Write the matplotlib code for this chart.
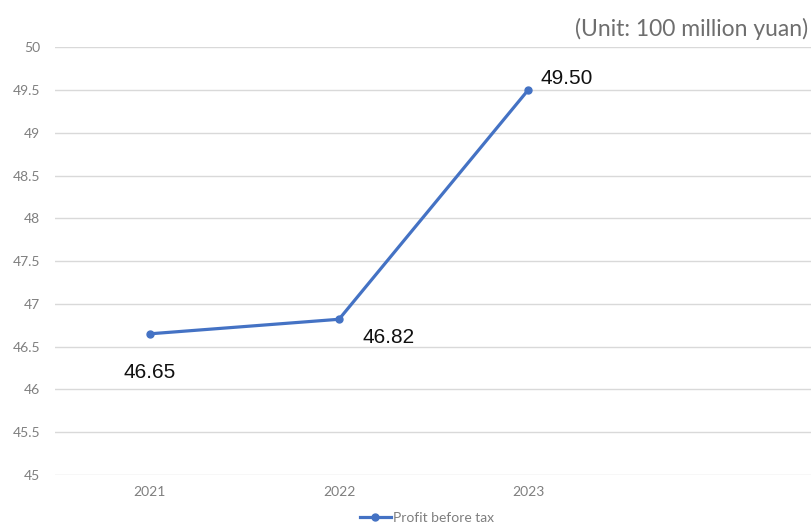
import matplotlib.pyplot as plt
from matplotlib.lines import Line2D

years = ["2021", "2022", "2023"]
profit = [46.65, 46.82, 49.50]
labels = ["46.65", "46.82", "49.50"]
yticks = [45, 45.5, 46, 46.5, 47, 47.5, 48, 48.5, 49, 49.5, 50]

blue = "#4472C4"
grey = "#7f7f7f"

fig = plt.figure(figsize=(8.12, 5.24), dpi=100)
ax = fig.add_axes([0.068, 0.0935, 0.932, 0.8165])

x = list(range(len(years)))
ax.plot(x, profit, color=blue, lw=2.3, marker="o", ms=5)

# data labels
offsets = [(0, -28), (36, -13), (28, 8)]
for xi, v, lab, off in zip(x, profit, labels, offsets):
    ax.annotate(lab, (xi, v), xytext=off, textcoords="offset points",
                ha="center", va="center", fontsize=15, color="#111111",
                family="Liberation Sans")

ax.set_xlim(-0.5, 3.5)
ax.set_ylim(45, 50)
ax.set_yticks(yticks)
ax.set_yticklabels([("%g" % t) for t in yticks])
ax.set_xticks(x)
ax.set_xticklabels(years)
ax.grid(axis="y", color="#d9d9d9", lw=1)
ax.set_axisbelow(True)
for s in ax.spines.values():
    s.set_visible(False)
ax.tick_params(length=0, colors=grey, labelsize=10, pad=8)
for t in ax.get_xticklabels() + ax.get_yticklabels():
    t.set_family("Lato")
ax.tick_params(axis="y", pad=11)

fig.text(0.995, 0.945, "(Unit: 100 million yuan)", ha="right", va="center",
         fontsize=16.5, color="#6e6e6e", family="Lato")

handle = Line2D([], [], color=blue, lw=2.3, marker="o", ms=5)
fig.legend([handle], ["Profit before tax"], loc="center", bbox_to_anchor=(0.526, 0.012),
           frameon=False, handlelength=2.2, handletextpad=0.2, labelcolor=grey,
           prop={"family": "Lato", "size": 10})

fig.savefig("out.png", dpi=100)
